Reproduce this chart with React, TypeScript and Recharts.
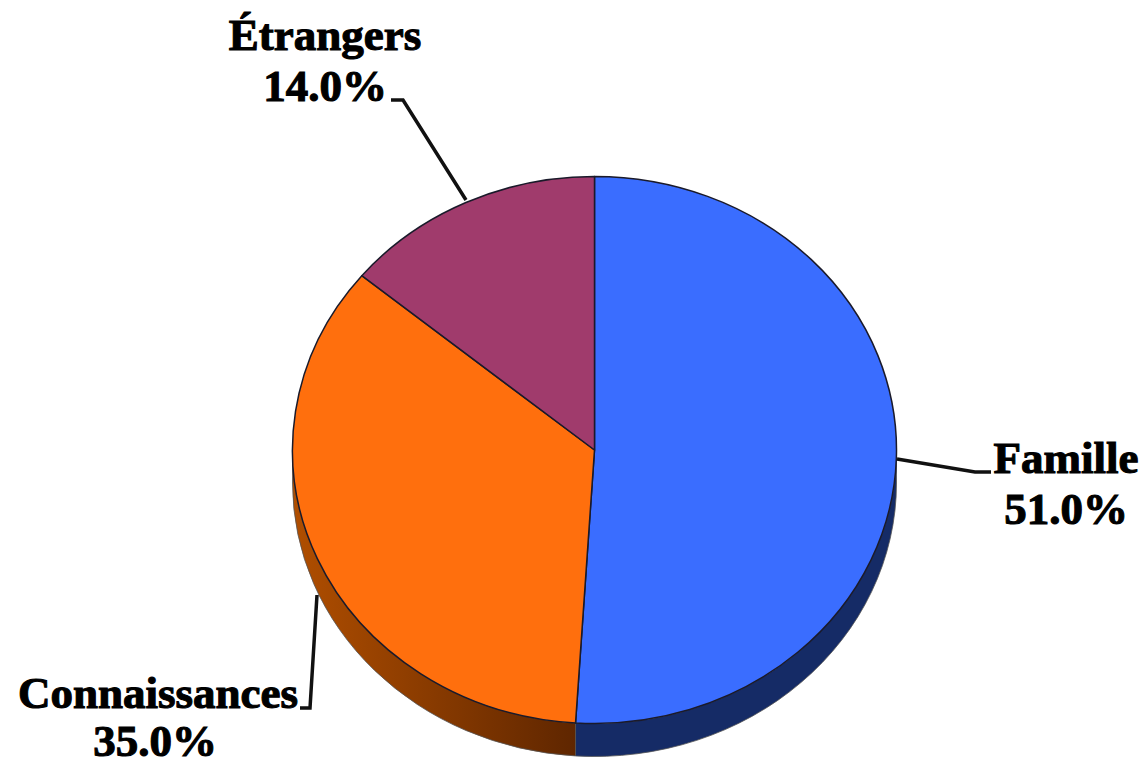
import { Cell, Pie, PieChart } from 'recharts';

const categories = ['Famille', 'Connaissances', 'Étrangers'];
const shares = [51, 35, 14];

const TOP_COLORS = ['#3a6dff', '#ff6f0d', '#a03b6c'];
const SIDE_COLORS = ['#152b66', 'url(#orangeSide)', '#6b2747'];

// vertical squash of the disc and thickness of its rim
const SQUASH = 273.5 / 302;
const DEPTH = 33;

// label block centre, baselines and leader line, by slice
const LABEL_LAYOUT = [
  { x: 1066, pctX: 1066, y: 473, gap: 51, leader: '897,459 975,472 991,472' },
  { x: 158, pctX: 155, y: 708, gap: 48, leader: '300,708 310,708 317,595' },
  { x: 325, pctX: 325, y: 50, gap: 51, leader: '391,100 403,100 466,200' },
];

const rows = categories.map((name, i) => ({ name, value: shares[i] }));

const pt = (cx: number, cy: number, r: number, deg: number) => {
  const a = (deg * Math.PI) / 180;
  return [cx + r * Math.cos(a), cy - r * SQUASH * Math.sin(a)];
};

function TopSlice(props: any) {
  const { cx, cy, outerRadius: r, startAngle, endAngle, fill } = props;
  const [x1, y1] = pt(cx, cy, r, startAngle);
  const [x2, y2] = pt(cx, cy, r, endAngle);
  const large = Math.abs(startAngle - endAngle) > 180 ? 1 : 0;
  const d = `M${cx},${cy} L${x1},${y1} A${r},${r * SQUASH} 0 ${large} 1 ${x2},${y2} Z`;
  return <path d={d} fill={fill} stroke="#1a1a2a" strokeWidth={1.5} strokeLinejoin="round" />;
}

// rim: only the part of a slice on the front half of the disc shows
function SideSlice(props: any) {
  const { cx, cy, outerRadius: r, startAngle, endAngle, fill } = props;
  const from = Math.min(startAngle, 0);
  const to = Math.max(endAngle, -180);
  if (from <= to) return null;
  const [x1, y1] = pt(cx, cy, r, from);
  const [x2, y2] = pt(cx, cy, r, to);
  const ry = r * SQUASH;
  const d = `M${x1},${y1} A${r},${ry} 0 0 1 ${x2},${y2} L${x2},${y2 + DEPTH} A${r},${ry} 0 0 0 ${x1},${y1 + DEPTH} Z`;
  return <path d={d} fill={fill} stroke="#555" strokeWidth={0.8} />;
}

function SliceLabel(props: any) {
  const { index, name, value } = props;
  const spot = LABEL_LAYOUT[index];
  return (
    <g>
      <polyline points={spot.leader} fill="none" stroke="#111" strokeWidth={3.5} />
      <text
        x={spot.x}
        y={spot.y}
        textAnchor="middle"
        fontFamily="'Liberation Serif', serif"
        fontWeight={700}
        fontSize={45}
        fill="#000"
        stroke="#000"
        strokeWidth={1.1}
      >
        {name}
        <tspan x={spot.pctX} dy={spot.gap}>{`${value.toFixed(1)}%`}</tspan>
      </text>
    </g>
  );
}

export default function App() {
  return (
    <div style={{ position: 'absolute', left: 0, top: 0, width: 1142, height: 766 }}>
      <PieChart width={1142} height={766} margin={{ top: 0, right: 0, bottom: 0, left: 0 }}>
        <defs>
          <linearGradient id="orangeSide" x1="0" y1="0" x2="1" y2="0">
            <stop offset="0%" stopColor="#b04e00" />
            <stop offset="100%" stopColor="#5f2600" />
          </linearGradient>
        </defs>
        <Pie
          data={rows}
          dataKey="value"
          cx={594.5}
          cy={450}
          outerRadius={302}
          startAngle={90}
          endAngle={-270}
          shape={SideSlice}
          isAnimationActive={false}
        >
          {rows.map((_, i) => (
            <Cell key={i} fill={SIDE_COLORS[i]} />
          ))}
        </Pie>
        <Pie
          data={rows}
          dataKey="value"
          cx={594.5}
          cy={450}
          outerRadius={302}
          startAngle={90}
          endAngle={-270}
          shape={TopSlice}
          label={SliceLabel}
          labelLine={false}
          isAnimationActive={false}
        >
          {rows.map((_, i) => (
            <Cell key={i} fill={TOP_COLORS[i]} />
          ))}
        </Pie>
      </PieChart>
    </div>
  );
}
